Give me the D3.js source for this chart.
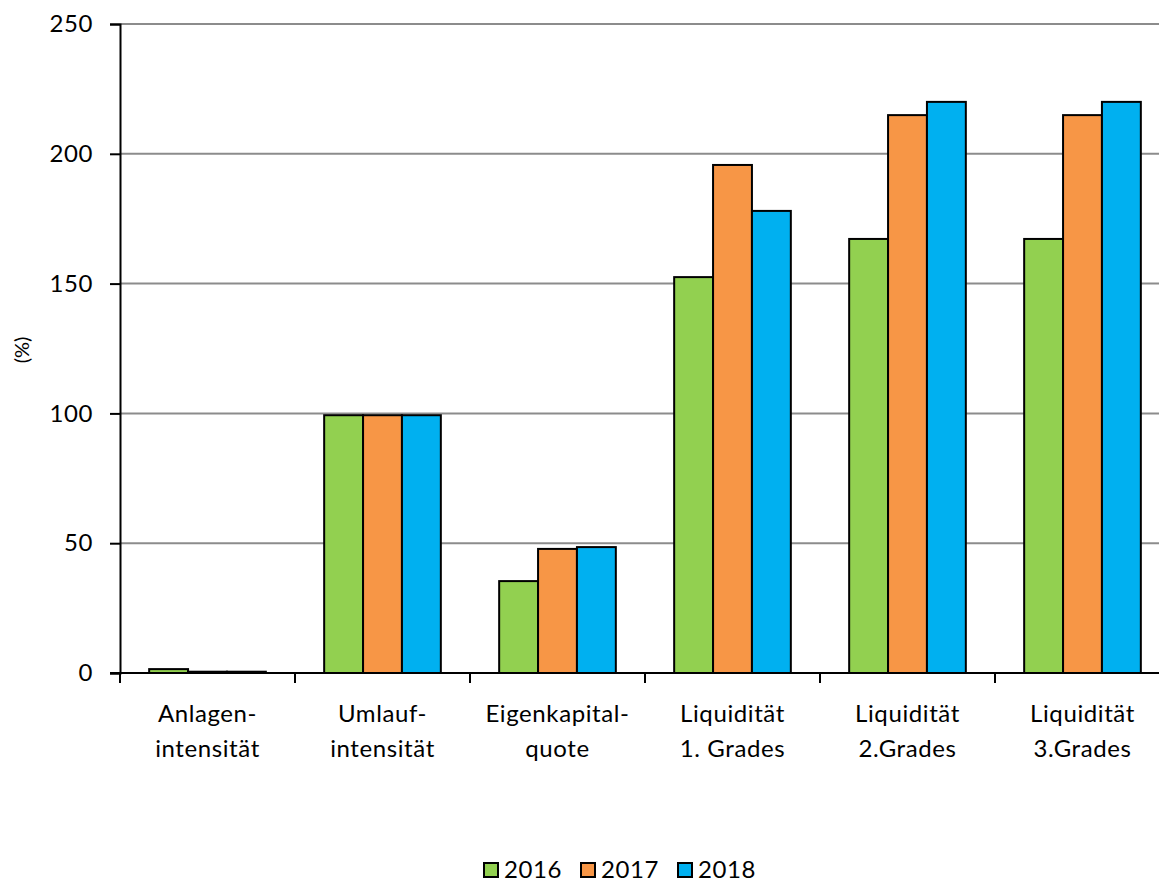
<!DOCTYPE html>
<html>
<head>
<meta charset="utf-8">
<script src="https://cdn.jsdelivr.net/npm/d3@7"></script>
<style>
  body { margin: 0; background: #fff; }
  svg { display: block; font-family: Lato, "Open Sans", sans-serif; }
</style>
</head>
<body>
<svg id="chart" width="1159" height="882"></svg>
<script>
// Kennzahlen je Jahr (in %)
const categories = [
  ["Anlagen-", "intensität"],
  ["Umlauf-", "intensität"],
  ["Eigenkapital-", "quote"],
  ["Liquidität", "1. Grades"],
  ["Liquidität", "2.Grades"],
  ["Liquidität", "3.Grades"]
];
const years = ["2016", "2017", "2018"];
const values2016 = [1.5, 99.3, 35.4, 152.5, 167.2, 167.2];
const values2017 = [0.5, 99.3, 47.8, 195.7, 214.9, 214.9];
const values2018 = [0.5, 99.3, 48.5, 178.0, 220.0, 220.0];
const yTicks = [0, 50, 100, 150, 200, 250];
const colors = ["#92d050", "#f79646", "#00b0f0"];

const series = [values2016, values2017, values2018];
const svg = d3.select("#chart");

const plotLeft = 120, plotRight = 1170, plotTop = 24, plotBottom = 673;
const fontSize = 24, spacing = "0.6px";

const x = d3.scaleBand().domain(d3.range(categories.length)).range([plotLeft, plotRight]).paddingInner(0).paddingOuter(0);
const inner = d3.scaleBand().domain(d3.range(years.length)).range([0, x.bandwidth()]).paddingInner(0).paddingOuter(0.75);
const y = d3.scaleLinear().domain([0, 250]).range([plotBottom, plotTop]);

// Gitternetzlinien
svg.append("g").selectAll("line").data(yTicks.filter(d => d > 0)).join("line")
  .attr("x1", plotLeft).attr("x2", 1159)
  .attr("y1", d => y(d)).attr("y2", d => y(d))
  .attr("stroke", "#8c8c8c").attr("stroke-width", 2);

// Balken
const groups = svg.append("g").selectAll("g").data(categories).join("g")
  .attr("transform", (d, i) => `translate(${x(i)},0)`);
groups.selectAll("rect").data((d, i) => series.map((s, k) => ({k, v: s[i]}))).join("rect")
  .attr("x", d => inner(d.k))
  .attr("width", inner.bandwidth())
  .attr("y", d => y(d.v))
  .attr("height", d => y(0) - y(d.v))
  .attr("fill", d => colors[d.k])
  .attr("stroke", "#000").attr("stroke-width", 2);

// Y-Achse
const yAxis = svg.append("g").attr("transform", `translate(${plotLeft},0)`)
  .call(d3.axisLeft(y).tickValues(yTicks).tickSize(10).tickPadding(17));
yAxis.select(".domain").attr("stroke", "#000").attr("stroke-width", 2);
yAxis.selectAll(".tick line").attr("stroke", "#000").attr("stroke-width", 2);
yAxis.selectAll("text").attr("font-size", fontSize).attr("fill", "#000")
  .attr("letter-spacing", spacing).attr("font-family", "Lato, 'Open Sans', sans-serif");

// X-Achse
const xAxis = svg.append("g").attr("transform", `translate(0,${plotBottom})`);
xAxis.append("line").attr("x1", plotLeft - 10).attr("x2", 1159)
  .attr("stroke", "#000").attr("stroke-width", 2);
xAxis.selectAll("line.t").data(d3.range(1, categories.length)).join("line")
  .attr("class", "t")
  .attr("x1", i => x(i)).attr("x2", i => x(i))
  .attr("y1", 0).attr("y2", 10)
  .attr("stroke", "#000").attr("stroke-width", 2);
xAxis.append("line").attr("x1", plotLeft).attr("x2", plotLeft).attr("y1", 0).attr("y2", 10)
  .attr("stroke", "#000").attr("stroke-width", 2);

const labels = svg.append("g").selectAll("text").data(categories).join("text")
  .attr("text-anchor", "middle").attr("font-size", fontSize).attr("fill", "#000")
  .attr("letter-spacing", spacing)
  .attr("transform", (d, i) => `translate(${x(i) + x.bandwidth() / 2},${plotBottom + 49})`);
labels.selectAll("tspan").data(d => d).join("tspan")
  .attr("x", 0).attr("dy", (d, j) => j === 0 ? 0 : 35).text(d => d);

// Achsentitel
svg.append("text").attr("transform", "translate(29,350) rotate(-90)")
  .attr("text-anchor", "middle").attr("font-size", 20).text("(%)");

// Legende
const legend = svg.append("g").attr("transform", "translate(484,862)");
const lx = [0, 97, 194];
years.forEach((yr, k) => {
  const g = legend.append("g").attr("transform", `translate(${lx[k]},0)`);
  g.append("rect").attr("x", 0).attr("y", 1).attr("width", 14).attr("height", 14)
    .attr("fill", colors[k]).attr("stroke", "#000").attr("stroke-width", 2);
  g.append("text").attr("x", 20).attr("y", 16).attr("font-size", fontSize)
    .attr("letter-spacing", spacing).text(yr);
});
</script>
</body>
</html>
